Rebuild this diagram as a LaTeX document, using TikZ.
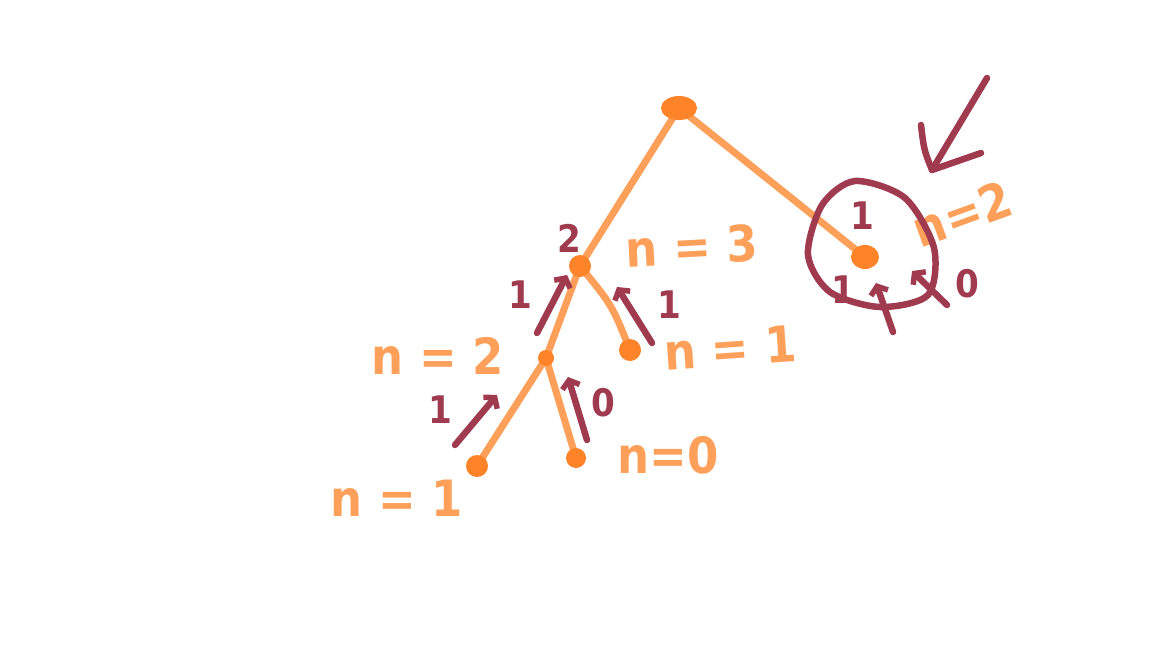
\documentclass[tikz,border=0pt]{standalone}
\usepackage{fontspec}
\setmainfont{DejaVu Sans Condensed}
\usetikzlibrary{arrows.meta,shapes.geometric,backgrounds}
\definecolor{edgeor}{HTML}{FFA05A}
\definecolor{dotor}{HTML}{FF8429}
\definecolor{mar}{HTML}{A03A4E}
\begin{document}
\begin{tikzpicture}[x=1pt,y=-1pt,
  edge/.style={draw=edgeor, line width=7pt, line cap=round, line join=round},
  dot/.style={circle, fill=dotor, inner sep=0pt, minimum size=#1},
  mline/.style={draw=mar, line width=6.5pt, line cap=round, line join=round},
  marr/.style={mline, -{Straight Barb[length=7pt,width=18pt,line width=5.5pt]}},
  lab/.style={text=edgeor, font=\fontsize{50}{50}\selectfont\bfseries, inner sep=0pt},
  mlab/.style={text=mar, font=\fontsize{38}{38}\selectfont\bfseries, inner sep=0pt}]
\useasboundingbox (0,0) rectangle (1152,648);
% tree dots
\node[ellipse, fill=dotor, inner sep=0pt, minimum width=36pt, minimum height=24pt] (root) at (679,108) {};
\node[dot=22pt] (b) at (580,266) {};
\node[dot=16pt] (c) at (546,358) {};
\node[dot=22pt] (d) at (630,350) {};
\node[dot=22pt] (e) at (477,466) {};
\node[dot=20pt] (f) at (576,458) {};
\node[ellipse, fill=dotor, inner sep=0pt, minimum width=28pt, minimum height=24pt] (r) at (865,257) {};
% edges
\begin{pgfonlayer}{background}
\draw[edge] (root.center) -- (b.center);
\draw[edge] (root.center) -- (r.center);
\draw[edge] (b.center) -- (c.center);
\draw[edge] (b.center) .. controls (612,305) .. (d.center);
\draw[edge] (c.center) -- (e.center);
\draw[edge] (c.center) -- (f.center);
\end{pgfonlayer}
% orange labels
\node[lab, rotate=3] (l3) at (692,246) {n = 3};
\node[lab] (l2a) at (438,356) {n = 2};
\node[lab, rotate=4] (l1a) at (730,348) {n = 1};
\node[lab] (l0) at (668,455) {n=0};
\node[lab] (l1b) at (397,498) {n = 1};
\node[lab, rotate=20] (l2b) at (962,214) {n=2};
% maroon labels
\node[mlab] (m2) at (569,238) {2};
\node[mlab] (m1a) at (520,295) {1};
\node[mlab] (m1b) at (669,305) {1};
\node[mlab] (m1c) at (440,410) {1};
\node[mlab] (m0a) at (603,403) {0};
\node[mlab] (m1d) at (862,216) {1};
\node[mlab] (m1e) at (843,290) {1};
\node[mlab] (m0b) at (967,284) {0};
% maroon arrows
\coordinate (a1s) at (537,333); \coordinate (a1e) at (567,275);
\coordinate (a2s) at (652,343); \coordinate (a2e) at (617,287);
\coordinate (a3s) at (455,445); \coordinate (a3e) at (497,395);
\coordinate (a4s) at (587,440); \coordinate (a4e) at (568,377);
\coordinate (a5s) at (893,332); \coordinate (a5e) at (876,283);
\coordinate (a6s) at (947,305); \coordinate (a6e) at (912,271);
\draw[marr] (a1s) -- (a1e);
\draw[marr] (a2s) -- (a2e);
\draw[marr] (a3s) -- (a3e);
\draw[marr] (a4s) -- (a4e);
\draw[marr] (a5s) -- (a5e);
\draw[marr] (a6s) -- (a6e);
% loop around right child
\draw[mline] plot[smooth cycle] coordinates {(855,181) (905,198) (934,248) (928,295) (880,307) (830,292) (808,255) (822,205)};
% big pointer arrow
\coordinate (bigs) at (987,78);
\coordinate (bigtip) at (932,170);
\coordinate (bigl) at (921,125);
\coordinate (bigr) at (981,153);
\draw[mline] (bigs) -- (bigtip);
\draw[mline] (bigl) .. controls (924,150) .. (bigtip) -- (bigr);
\end{tikzpicture}
\end{document}
